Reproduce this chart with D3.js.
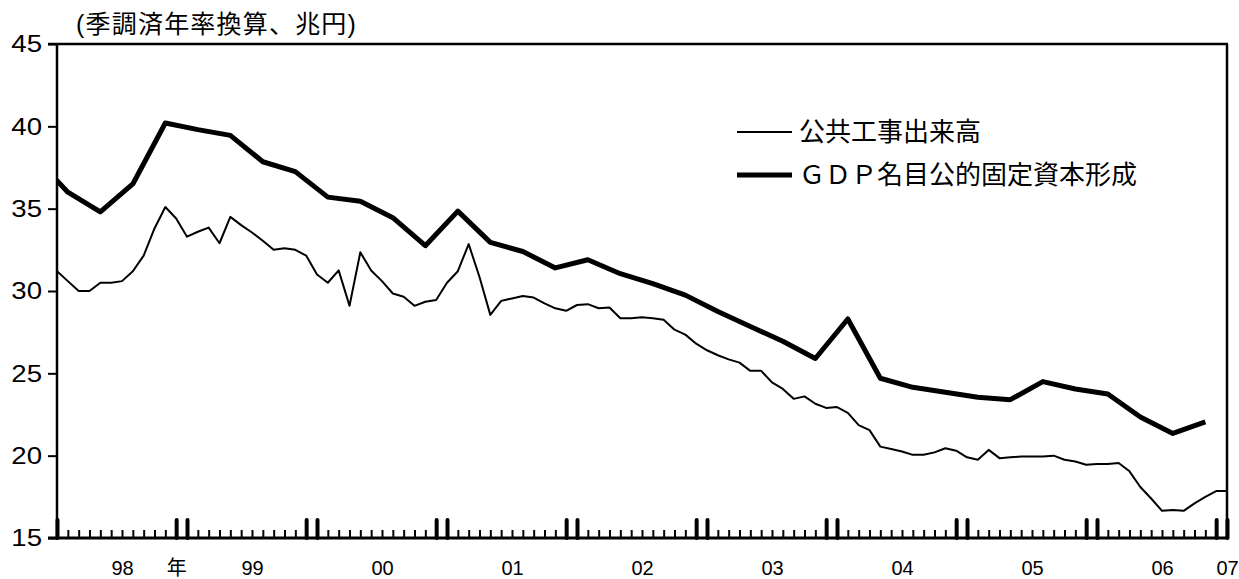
<!DOCTYPE html>
<html>
<head>
<meta charset="utf-8">
<script src="https://cdn.jsdelivr.net/npm/d3@7"></script>
<style>
  html, body { margin: 0; padding: 0; background: #fff; }
  svg { display: block; }
  text { fill: #000; }
</style>
</head>
<body>
<div id="chart"></div>
<script>
// ---- data ----
// month index 0 = Jan 1998
const publicWorksMonths = d3.range(0, 109);
const publicWorksValues = [
  31.2, 30.6, 30.0, 30.0, 30.5, 30.5, 30.6, 31.2, 32.15, 33.8,
  35.1, 34.4, 33.3, 33.6, 33.85, 32.9, 34.5, 34.0, 33.55, 33.05,
  32.5, 32.6, 32.5, 32.15, 31.0, 30.5, 31.25, 29.1, 32.35, 31.25,
  30.6, 29.85, 29.65, 29.1, 29.35, 29.45, 30.5, 31.2, 32.85, 30.85,
  28.55, 29.4, 29.55, 29.7, 29.6, 29.25, 28.95, 28.8, 29.15, 29.2,
  28.95, 29.0, 28.35, 28.35, 28.4, 28.35, 28.25, 27.65, 27.35, 26.8,
  26.4, 26.1, 25.85, 25.65, 25.15, 25.15, 24.45, 24.05, 23.45, 23.6,
  23.15, 22.9, 22.95, 22.6, 21.85, 21.55, 20.55, 20.4, 20.25, 20.05,
  20.05, 20.2, 20.45, 20.3, 19.9, 19.75, 20.35, 19.85, 19.9, 19.95,
  19.95, 19.95, 20.0, 19.75, 19.65, 19.45, 19.5, 19.5, 19.55, 19.05,
  18.1, 17.4, 16.65, 16.7, 16.65, 17.1, 17.5, 17.85, 17.85
];
// quarterly, plotted at the middle month of each quarter (Q4 1997 .. Q3 2006)
const gdpMonths = d3.range(-2, 107, 3);
const gdpValues = [
  38.1, 36.0, 34.8, 36.5, 40.2, 39.8, 39.45, 37.85, 37.25, 35.7,
  35.45, 34.45, 32.75, 34.85, 32.95, 32.4, 31.4, 31.9, 31.05, 30.45,
  29.75, 28.75, 27.85, 26.95, 25.9, 28.3, 24.7, 24.15, 23.85, 23.55,
  23.4, 24.5, 24.05, 23.75, 22.35, 21.35, 22.05
];
const yTicks = [15, 20, 25, 30, 35, 40, 45];
const xLabelText = ["98", "年", "99", "00", "01", "02", "03", "04", "05", "06", "07"];
const xLabelMonths = [6, 11, 18, 30, 42, 54, 66, 78, 90, 102, 108];
const majorTickMonths = [0, 11, 12, 23, 24, 35, 36, 47, 48, 59, 60, 71, 72, 83, 84, 95, 96, 107, 108];
const minorTickMonths = d3.range(0, 109).filter(m => !majorTickMonths.includes(m));
const seriesNames = ["公共工事出来高", "ＧＤＰ名目公的固定資本形成"];
const unitLabel = "(季調済年率換算、兆円)";

// ---- layout ----
const W = 1239, H = 579;
const L = 57, R = 1227, T = 44, B = 538;
const LATIN = "'Liberation Sans', Arial, 'Noto Sans CJK JP', sans-serif";
const CJK = "'Noto Sans CJK JP', sans-serif";

const svg = d3.select("#chart").append("svg").attr("width", W).attr("height", H);

const x = d3.scaleLinear().domain([0, 108]).range([L, R]);
const y = d3.scaleLinear().domain([15, 45]).range([B, T]);

svg.append("defs").append("clipPath").attr("id", "plotclip")
  .append("rect").attr("x", L).attr("y", T).attr("width", R - L).attr("height", B - T);

// unit label
svg.append("text").attr("x", 76).attr("y", 32.5)
  .style("font-size", "25px").style("letter-spacing", "1.2px").style("font-family", LATIN).text(unitLabel);

// y axis
const yAxis = svg.append("g").attr("transform", `translate(${L},0)`)
  .call(d3.axisLeft(y).tickValues(yTicks).tickSize(9).tickPadding(6).tickFormat(d3.format("d")));
yAxis.select(".domain").remove();
yAxis.selectAll(".tick line").attr("stroke", "#000").attr("stroke-width", 2);
yAxis.selectAll(".tick text").style("font-size", "24px").style("font-family", LATIN)
  .attr("transform", "scale(1.15,1)").attr("x", -15 / 1.15);

// x axis minor ticks
const xMinor = svg.append("g").attr("transform", `translate(0,${B})`)
  .call(d3.axisBottom(x).tickValues(minorTickMonths).tickSize(-8).tickFormat(""));
xMinor.select(".domain").remove();
xMinor.selectAll(".tick line").attr("stroke", "#000").attr("stroke-width", 2);

// x axis major ticks
const xMajor = svg.append("g").attr("transform", `translate(0,${B})`)
  .call(d3.axisBottom(x).tickValues(majorTickMonths).tickSize(-18).tickFormat(""));
xMajor.select(".domain").remove();
xMajor.selectAll(".tick line").attr("stroke", "#000").attr("stroke-width", 4)
  .attr("stroke-linecap", "round").attr("y1", 0).attr("y2", -18);

// x labels
const xLab = svg.append("g").attr("transform", `translate(0,${B})`)
  .call(d3.axisBottom(x).tickValues(xLabelMonths).tickSize(0).tickPadding(23)
    .tickFormat((d, i) => xLabelText[i]));
xLab.select(".domain").remove();
xLab.selectAll(".tick text").style("font-size", "20px").style("font-family", LATIN);

// frame
svg.append("line").attr("x1", L).attr("x2", L).attr("y1", T).attr("y2", B)
  .attr("stroke", "#000").attr("stroke-width", 2.5);
svg.append("line").attr("x1", L - 9).attr("x2", R + 1).attr("y1", T).attr("y2", T)
  .attr("stroke", "#000").attr("stroke-width", 2.5);
svg.append("line").attr("x1", R).attr("x2", R).attr("y1", T).attr("y2", B)
  .attr("stroke", "#000").attr("stroke-width", 2.5);
svg.append("line").attr("x1", L - 9).attr("x2", R + 1).attr("y1", B).attr("y2", B)
  .attr("stroke", "#000").attr("stroke-width", 3);

// lines
const line = d3.line().x(d => x(d[0])).y(d => y(d[1]));
const g = svg.append("g").attr("clip-path", "url(#plotclip)");
g.append("path").datum(publicWorksMonths.map((m, i) => [m, publicWorksValues[i]]))
  .attr("d", line).attr("fill", "none").attr("stroke", "#000").attr("stroke-width", 2)
  .attr("stroke-linejoin", "round");
g.append("path").datum(gdpMonths.map((m, i) => [m, gdpValues[i]]))
  .attr("d", line).attr("fill", "none").attr("stroke", "#000").attr("stroke-width", 5)
  .attr("stroke-linejoin", "round");

// legend
const legend = svg.append("g");
const legendRows = [
  { name: seriesNames[0], w: 2, y: 132 },
  { name: seriesNames[1], w: 5, y: 175 }
];
legendRows.forEach(r => {
  legend.append("line").attr("x1", 737).attr("x2", 792).attr("y1", r.y).attr("y2", r.y)
    .attr("stroke", "#000").attr("stroke-width", r.w);
  legend.append("text").attr("x", 799).attr("y", r.y).attr("dy", "0.36em")
    .style("font-size", "26px").style("font-family", CJK).text(r.name);
});
</script>
</body>
</html>
